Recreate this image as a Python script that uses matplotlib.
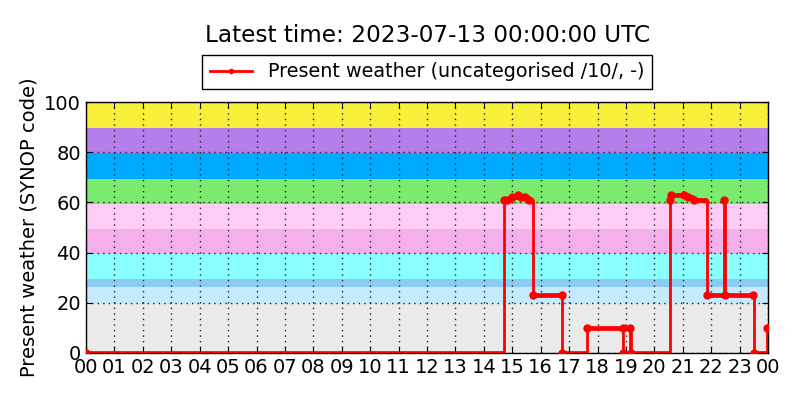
import matplotlib
matplotlib.use('Agg')
import matplotlib.pyplot as plt

# background bands for SYNOP code groups
band_lo = [0, 19.5, 26.2, 29.3, 39.5, 49.5, 59.5, 69.5, 79.5, 89.5]
band_hi = [19.5, 26.2, 29.3, 39.5, 49.5, 59.5, 69.5, 79.5, 89.5, 100]
band_colors = ['#eaeaea', '#c6eafd', '#8ccbf5', '#8affff', '#f5b0ec',
               '#fdcdf5', '#7aeb6e', '#00aaff', '#b47feb', '#f7ef3a']

# present weather code, hours since 00 UTC
hours = [0, 14.72, 14.8, 15.0, 15.2, 15.3, 15.45, 15.6, 15.74, 16.75, 16.76,
         17.62, 18.9, 18.91, 19.13, 19.17, 20.55, 20.6, 21.05, 21.2, 21.4,
         21.87, 22.44, 22.48, 23.48, 23.49, 23.95, 24.0]
code = [0, 61, 61, 62, 63, 62, 62, 61, 23, 23, 0,
        10, 10, 0, 10, 0, 61, 63, 63, 62, 61,
        23, 61, 23, 23, 0, 10, 10]

xtick_labels = ['%02d' % (h % 24) for h in range(25)]

fig = plt.figure(figsize=(8, 4), dpi=100)
ax = fig.add_axes([0.1075, 0.1175, 0.8525, 0.6275])

for lo, hi, c in zip(band_lo, band_hi, band_colors):
    ax.axhspan(lo, hi, color=c, lw=0, zorder=0)

ax.plot(hours, code, 'o-', color='red', lw=2, ms=5, mec='red',
        drawstyle='steps-post', zorder=3,
        label='Present weather (uncategorised /10/, -)')
# minute data makes the flat parts look heavier
ax.hlines(code[:-1], hours[:-1], hours[1:], color='red', lw=3.4, zorder=3)

ax.set_xlim(0, 24)
ax.set_ylim(0, 100)
ax.set_xticks(range(25))
ax.set_xticklabels(xtick_labels)
ax.set_yticks(range(0, 101, 20))
ax.tick_params(direction='in', top=True, right=True, labelsize=14, length=4)
ax.grid(True, color='#222222', linestyle=(0, (1, 3)), lw=1, zorder=1)
ax.set_axisbelow(False)
ax.set_ylabel('Present weather (SYNOP code)', fontsize=14)
for s in ax.spines.values():
    s.set_linewidth(1)

fig.text(0.534, 0.912, 'Latest time: 2023-07-13 00:00:00 UTC', fontsize=16.7,
         ha='center', va='center')
leg = ax.legend(loc='lower center', bbox_to_anchor=(0.5, 1.052), fontsize=13.8,
                fancybox=False, framealpha=1, edgecolor='black',
                borderaxespad=0, markerscale=0.6, handlelength=2.2)
leg.get_frame().set_linewidth(1)

fig.savefig('out.png', dpi=100)
